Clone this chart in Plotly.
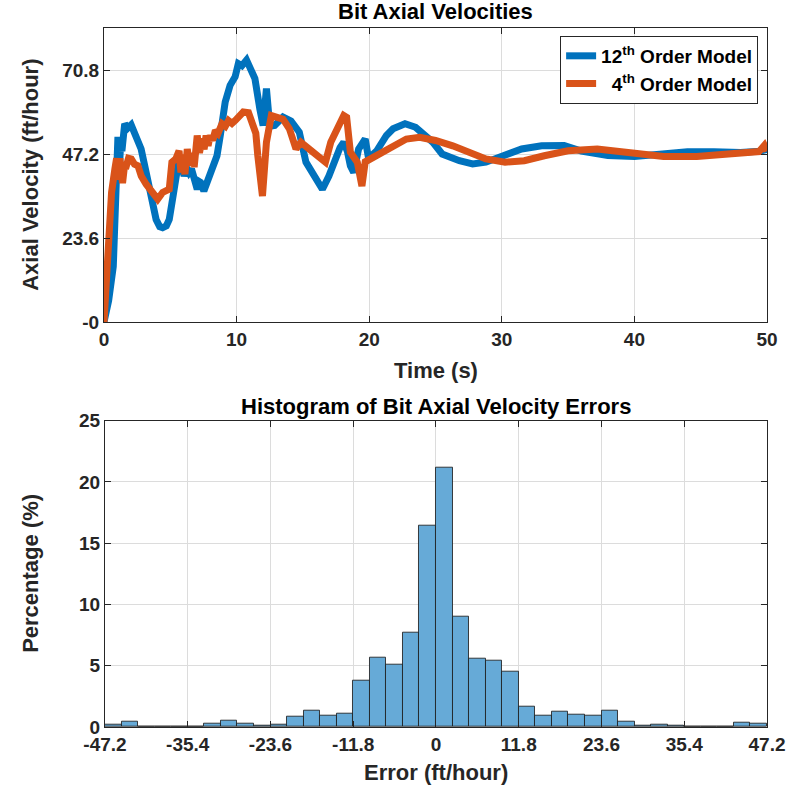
import plotly.graph_objects as go

# ---------------- data ----------------
t_12 = [0, 0.35, 0.7, 0.85, 0.95, 1.05, 1.15, 1.25, 1.35, 1.56, 1.8, 2.05, 2.25, 2.43, 2.8, 3.18, 3.55,
        3.93, 4.2, 4.42, 4.7, 4.92, 5.17, 5.41, 5.66, 5.85, 6.04, 6.2, 6.41, 6.6, 6.78, 7.03, 7.15, 7.28,
        7.53, 7.7, 7.9, 8.15, 8.52, 8.77, 9.14, 9.51, 9.89, 10.13, 10.4, 10.75, 11.0, 11.38, 11.75, 12.0,
        12.25, 12.5, 12.87, 13.5, 14.1, 14.73, 15.23, 15.85, 16.2, 16.47, 16.96, 17.46, 17.8, 18.08, 18.35,
        18.58, 18.83, 19.2, 19.7, 19.95, 20.57, 21.3, 21.8, 22.7, 23.5, 24.8, 25.5, 26.8, 27.8, 28.8, 30,
        31.5, 33, 34.7, 36, 38, 40, 42, 44, 46, 48, 49.5, 50]
v_12 = [0, 6, 15.6, 35, 50, 52, 42, 50, 48, 55.7, 54.5, 55.4, 53.5, 51.9, 48.6, 42, 35.4,
        28.8, 26.8, 26.5, 27, 28.8, 34.5, 42, 45.8, 44, 41, 43.5, 42, 43, 40.1, 37.3, 39.5, 39.2,
        36.8, 38.5, 39.2, 43, 46.7, 52.4, 61.8, 66.5, 68.9, 72.6, 72, 73.6, 71.5, 68.4, 59.9, 55.2,
        65.6, 55, 55.2, 57.6, 56.5, 53.3, 44.9, 40.6, 39, 37.3, 41, 46.7, 49, 50.5, 48,
        43.9, 42, 48.6, 51.4, 46, 48.1, 52.4, 54.3, 55.7, 54.7, 50.5, 47.2, 45.3, 44.4, 44.9, 46.7,
        48.6, 49.5, 49.6, 48, 46.8, 46.5, 47.3, 47.8, 47.8, 47.6, 48, 48.5]

t_4 = [0, 0.32, 0.57, 0.82, 0.95, 1.07, 1.2, 1.4, 1.55, 1.69, 1.85, 2.06, 2.3, 2.56, 2.81, 3.18, 3.68,
       4.05, 4.42, 4.92, 5.12, 5.41, 5.66, 5.8, 5.95, 6.1, 6.28, 6.45, 6.66, 6.8, 7.03, 7.2, 7.4, 7.55,
       7.7, 7.85, 8.0, 8.2, 8.4, 8.6, 8.9, 9.15, 9.39, 9.65, 9.89, 10.15, 10.5, 10.9, 11.25, 11.45, 11.6,
       11.95, 12.25, 12.62, 13.5, 13.98, 14.48, 14.85, 15.47, 16.2, 16.7, 17.1, 17.58, 18.08, 18.3, 18.58,
       19.1, 19.45, 19.7, 20.2, 20.6, 21.6, 22.8, 23.8, 25, 26.3, 27.5, 28.8, 30.25, 31.7, 33.2, 35,
       37.2, 39.7, 42.2, 44.7, 47.1, 49.4, 49.8, 50]
v_4 = [0, 20.3, 36.4, 43, 46, 40, 46, 39, 44, 43.9, 46, 45.8, 44.3, 43.9, 41, 38.7, 36.4,
       34.5, 36.4, 37.3, 44.9, 45.8, 48.1, 42, 47, 41.5, 48.6, 44, 47.5, 43.5, 52.4, 47.5, 51.5, 48.5,
       52.4, 49.5, 52.4, 51, 53.8, 53, 55.7, 55, 56.6, 55.8, 56.6, 57.5, 59, 58.8, 55.2, 53, 46.7,
       35.4, 50.5, 58, 57, 54.3, 48.6, 50.5, 48.6, 46.7, 44.9, 50.5, 54.3, 58, 57.5, 47.7,
       44.9, 38.2, 45, 46, 46.7, 48.6, 51.4, 51.9, 51, 49.5, 47.7, 45.8, 44.9, 45.3, 46.7, 48.1,
       48.6, 47.7, 46.5, 46.5, 47.2, 47.9, 49.6, 48]

# histogram: 40 bins from -47.2 to 47.2, percentage per bin
hist_start = -47.2
hist_width = 2.36
hist_pct = [0.19, 0.41, 0.06, 0.03, 0.02, 0.0, 0.27, 0.49, 0.27, 0.1,
            0.19, 0.87, 1.36, 0.93, 1.12, 3.79, 5.64, 5.1, 7.66, 16.4,
            21.17, 8.99, 5.61, 5.42, 4.5, 1.63, 0.95, 1.23, 1.04, 0.9,
            1.36, 0.41, 0.08, 0.16, 0.08, 0.05, 0.0, 0.0, 0.35, 0.25]

top_yticks = [0, 23.6, 47.2, 70.8]
top_yticklabels = ["-0", "23.6", "47.2", "70.8"]
top_xticks = [0, 10, 20, 30, 40, 50]
bot_xticks = [-47.2, -35.4, -23.6, -11.8, 0, 11.8, 23.6, 35.4, 47.2]
bot_xticklabels = ["-47.2", "-35.4", "-23.6", "-11.8", "0", "11.8", "23.6", "35.4", "47.2"]
bot_yticks = [0, 5, 10, 15, 20, 25]

# ---------------- figure ----------------
FONT = "Liberation Sans"
BLUE = "#0072BD"
ORANGE = "#D95319"
AX = "#262626"
GRID = "#DCDCDC"

bin_centers = [hist_start + hist_width * (i + 0.5) for i in range(len(hist_pct))]

fig = go.Figure()
fig.add_trace(go.Scatter(x=t_12, y=v_12, mode="lines", line=dict(color=BLUE, width=7),
                         name="12<sup>th</sup> Order Model", xaxis="x", yaxis="y"))
fig.add_trace(go.Scatter(x=t_4, y=v_4, mode="lines", line=dict(color=ORANGE, width=7),
                         name="&nbsp;&nbsp;4<sup>th</sup> Order Model", xaxis="x", yaxis="y"))
fig.add_trace(go.Bar(x=bin_centers, y=hist_pct, width=hist_width,
                     marker=dict(color="rgb(102,170,215)", line=dict(color="rgba(30,30,30,0.85)", width=1)),
                     showlegend=False, xaxis="x2", yaxis="y2"))

axis_common = dict(showline=True, linecolor=AX, linewidth=1, mirror="ticks", ticks="inside",
                   ticklen=6, tickcolor=AX, showgrid=True, gridcolor=GRID, gridwidth=1,
                   zeroline=False, tickfont=dict(family=FONT, size=19, color=AX, weight="bold"))

fig.update_layout(
    width=797, height=795,
    margin=dict(l=104, r=22, t=28, b=68),
    paper_bgcolor="white", plot_bgcolor="white",
    bargap=0,
    xaxis=dict(domain=[0, 1], range=[0, 50], tickvals=top_xticks, anchor="y", **axis_common),
    yaxis=dict(domain=[0.5794, 1], range=[0, 82.6], tickvals=top_yticks, ticktext=top_yticklabels,
               anchor="x", **axis_common),
    xaxis2=dict(domain=[0.0015, 1], range=[-47.2, 47.2], tickvals=bot_xticks, ticktext=bot_xticklabels,
                anchor="y2", **axis_common),
    yaxis2=dict(domain=[0, 0.4382], range=[0, 25], tickvals=bot_yticks, anchor="x2", **axis_common),
    legend=dict(x=0.9866, y=0.9886, xanchor="right", yanchor="top", bgcolor="white",
                bordercolor=AX, borderwidth=1,
                font=dict(family=FONT, size=19, color="black", weight="bold"),
                itemwidth=30, tracegroupgap=0),
    annotations=[
        dict(text="Bit Axial Velocities", x=0.5, y=1, xref="paper", yref="paper", xanchor="center",
             yanchor="bottom", yshift=2, showarrow=False,
             font=dict(family=FONT, size=22, color="black", weight="bold")),
        dict(text="Histogram of Bit Axial Velocity Errors", x=0.5, y=0.4382, xref="paper", yref="paper",
             xanchor="center", yanchor="bottom", yshift=0, showarrow=False,
             font=dict(family=FONT, size=22, color="black", weight="bold")),
        dict(text="Axial Velocity (ft/hour)", x=0, y=0.79, xref="paper", yref="paper", xanchor="center",
             yanchor="middle", xshift=-73, textangle=-90, showarrow=False,
             font=dict(family=FONT, size=22, color=AX, weight="bold")),
        dict(text="Percentage (%)", x=0, y=0.2191, xref="paper", yref="paper", xanchor="center",
             yanchor="middle", xshift=-73, textangle=-90, showarrow=False,
             font=dict(family=FONT, size=22, color=AX, weight="bold")),
        dict(text="Time (s)", x=0.5, y=0.5794, xref="paper", yref="paper", xanchor="center",
             yanchor="top", yshift=-34, showarrow=False,
             font=dict(family=FONT, size=22, color=AX, weight="bold")),
        dict(text="Error (ft/hour)", x=0.5, y=0, xref="paper", yref="paper", xanchor="center",
             yanchor="top", yshift=-31, showarrow=False,
             font=dict(family=FONT, size=22, color=AX, weight="bold")),
    ],
)

fig.write_html("out.html")
